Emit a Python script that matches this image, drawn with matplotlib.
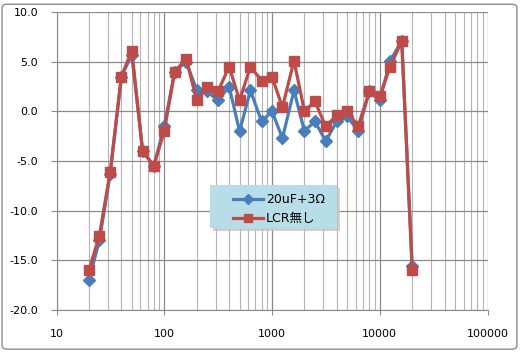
import matplotlib
matplotlib.use('Agg')
import matplotlib.pyplot as plt
from matplotlib.patches import FancyBboxPatch, Rectangle
from matplotlib.ticker import LogLocator, FixedLocator

plt.rcParams['font.family'] = ['DejaVu Sans', 'Noto Sans CJK JP']

freq = [20, 25, 31.5, 40, 50, 63, 80, 100, 125, 160, 200, 250, 315, 400, 500,
        630, 800, 1000, 1250, 1600, 2000, 2500, 3150, 4000, 5000, 6300, 8000,
        10000, 12500, 16000, 20000]
cap = [-17.0, -13.0, -6.3, 3.5, 5.7, -4.0, -5.5, -1.5, 4.0, 5.0, 2.1, 2.0, 1.1,
       2.5, -2.0, 2.1, -1.0, 0.0, -2.7, 2.1, -2.0, -1.0, -3.0, -1.0, -0.5,
       -2.0, 2.0, 1.1, 5.1, 7.1, -15.6]
nolcr = [-16.0, -12.5, -6.1, 3.5, 6.1, -4.0, -5.5, -2.0, 4.0, 5.3, 1.1, 2.5, 2.0,
         4.5, 1.1, 4.5, 3.1, 3.5, 0.4, 5.1, 0.0, 1.0, -1.5, -0.4, 0.0,
         -1.5, 2.0, 1.5, 4.5, 7.1, -16.0]
labels = ['20uF+3Ω', 'LCR無し']
yticks = [-20, -15, -10, -5, 0, 5, 10]

W, H = 520, 352
fig = plt.figure(figsize=(W / 100, H / 100), dpi=100)
fig.patches.append(FancyBboxPatch((0.004, 0.008), 0.99, 0.98,
                                  boxstyle='round,pad=0,rounding_size=0.01',
                                  transform=fig.transFigure, fc='white',
                                  ec='#8c8c8c', lw=1.0, zorder=-1))
ax = fig.add_axes((56.5 / W, 1 - 310 / H, 431 / W, 298 / H))
ax.set_xscale('log')
ax.set_xlim(10, 100000)
ax.set_ylim(-20, 10)
ax.set_yticks(yticks)
ax.set_yticklabels(['%.1f' % v for v in yticks])
ax.xaxis.set_major_locator(FixedLocator([10, 100, 1000, 10000, 100000]))
ax.set_xticklabels(['10', '100', '1000', '10000', '100000'])
ax.xaxis.set_minor_locator(LogLocator(base=10, subs=range(2, 10)))
ax.xaxis.set_minor_formatter(plt.NullFormatter())
ax.grid(True, which='major', color='#8a8a8a', lw=0.9)
ax.grid(True, which='minor', axis='x', color='#b4b4b4', lw=0.8)
ax.tick_params(which='major', color='#8a8a8a', labelsize=8)
ax.tick_params(axis='x', length=3.6, pad=10)
ax.tick_params(axis='y', length=4.3, pad=9)
ax.tick_params(which='minor', length=0)
for s in ['top', 'right']:
    ax.spines[s].set_visible(False)
for s in ['left', 'bottom']:
    ax.spines[s].set_color('#8a8a8a')

ax.plot(freq, cap, color='#4a7ebb', lw=2.3, marker='D', ms=6, label=labels[0])
ax.plot(freq, nolcr, color='#be4b48', lw=2.3, marker='s', ms=7, label=labels[1])

# legend box with shadow
ax.add_patch(Rectangle((213 / W, 1 - 231 / H), 127 / W, 43 / H,
                       transform=fig.transFigure, fc='#c4c4c4', ec='none',
                       alpha=0.8, zorder=4, clip_on=False))
ax.add_patch(Rectangle((210 / W, 1 - 228 / H), 127 / W, 43 / H,
                       transform=fig.transFigure, fc='#b7dde8', ec='none',
                       zorder=4.5, clip_on=False))
leg = ax.legend(loc='upper left', bbox_to_anchor=(227 / W, 1 - 187 / H),
                bbox_transform=fig.transFigure, fontsize=9, frameon=False,
                handlelength=2.4, borderpad=0, labelspacing=0.45,
                handletextpad=0.2, markerscale=0.85)
leg.set_zorder(5)

fig.savefig('out.png', dpi=100)
